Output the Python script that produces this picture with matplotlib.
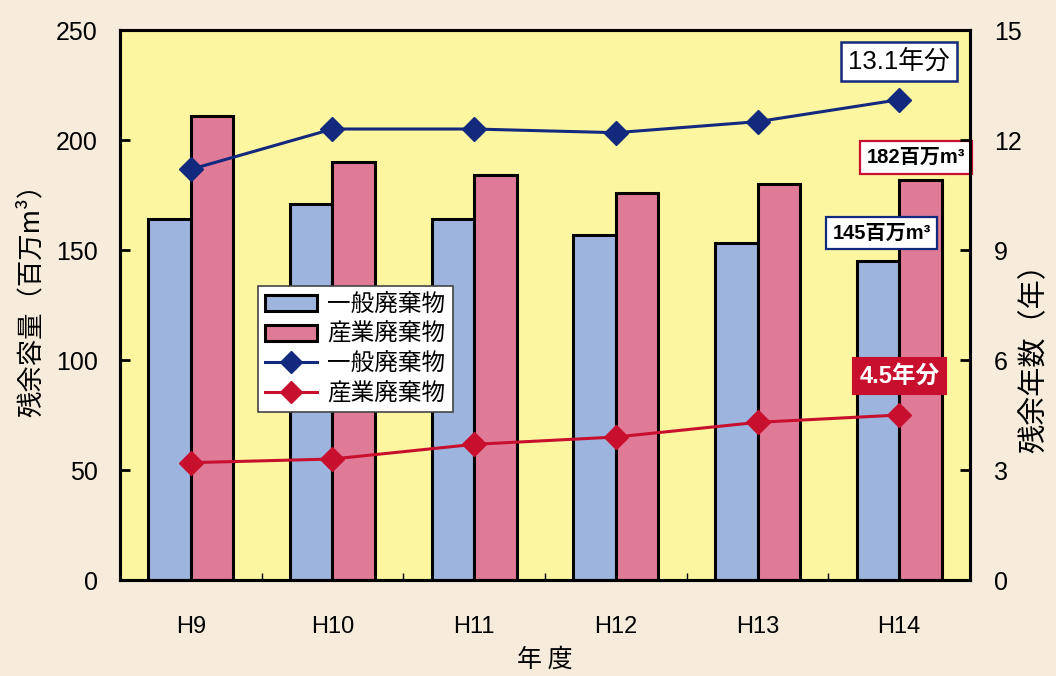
import matplotlib
matplotlib.use("Agg")
import matplotlib.pyplot as plt
import numpy as np

plt.rcParams['font.family'] = ['Liberation Sans', 'Noto Sans CJK JP', 'DejaVu Sans']
CJK = ['Noto Sans CJK JP', 'DejaVu Sans']

years = ["H9", "H10", "H11", "H12", "H13", "H14"]
general_volume = [164, 171, 164, 157, 153, 145]      # 百万m3
industrial_volume = [211, 190, 184, 176, 180, 182]   # 百万m3
general_years = [11.2, 12.3, 12.3, 12.2, 12.5, 13.1]  # 年
industrial_years = [3.2, 3.3, 3.7, 3.9, 4.3, 4.5]     # 年
series_names = ["一般廃棄物", "産業廃棄物"]

BLUE_BAR = "#9db4de"
PINK_BAR = "#e07b97"
NAVY = "#13297e"
RED = "#c8102e"

fig = plt.figure(figsize=(10.56, 6.76), dpi=100)
fig.patch.set_facecolor("#f7ecdc")
ax = fig.add_axes([0.1136, 0.142, 0.805, 0.8136])
ax.set_facecolor("#fdf6a0")

x = np.arange(len(years))
w = 0.3
b1 = ax.bar(x - w / 2, general_volume, w, color=BLUE_BAR, edgecolor="black",
            linewidth=2.2, label=series_names[0], zorder=2)
b2 = ax.bar(x + w / 2, industrial_volume, w, color=PINK_BAR, edgecolor="black",
            linewidth=2.2, label=series_names[1], zorder=2)

ax.set_xlim(-0.5, len(years) - 0.5)
ax.set_ylim(0, 250)
ax.set_yticks([0, 50, 100, 150, 200, 250])
ax.set_xticks(x)
ax.set_xticklabels(years)
ax.set_xticks(np.arange(len(years) + 1) - 0.5, minor=True)
ax.tick_params(axis="x", which="major", length=0, pad=26, labelsize=17)
ax.tick_params(axis="x", which="minor", direction="in", length=5, width=1)
ax.tick_params(axis="y", direction="in", length=7, width=2, labelsize=18, pad=16)
for s in ax.spines.values():
    s.set_linewidth(2.2)

ax2 = ax.twinx()
ax2.set_ylim(0, 15)
ax2.set_yticks([0, 3, 6, 9, 12, 15])
ax2.tick_params(axis="y", direction="in", length=7, width=2, labelsize=18, pad=17)
l1, = ax2.plot(x, general_years, color=NAVY, lw=2.2, marker="D", ms=12,
               label=series_names[0], zorder=3)
l2, = ax2.plot(x, industrial_years, color=RED, lw=2.2, marker="D", ms=12,
               label=series_names[1], zorder=3)
for s in ax2.spines.values():
    s.set_linewidth(2.2)

ax.set_ylabel("残余容量（百万m³）", fontsize=19, family=CJK)
ax.yaxis.set_label_coords(-0.088, 0.52)
ax2.set_ylabel("残余年数（年）", fontsize=21, family=CJK)
ax2.yaxis.set_label_coords(1.058, 0.416)
ax.set_xlabel("年 度", fontsize=18, family=CJK)
ax.xaxis.set_label_coords(0.5, -0.122)

leg = ax2.legend([b1, b2, l1, l2], series_names + series_names,
                 loc="lower left", bbox_to_anchor=(0.162, 0.305),
                 prop={'family': CJK, 'size': 17}, frameon=True, fancybox=False,
                 edgecolor="#444444", framealpha=1, handlelength=2.2,
                 handleheight=0.65, borderpad=0.3, labelspacing=0.28,
                 handletextpad=0.45, borderaxespad=0)
leg.get_frame().set_linewidth(1.2)
for h in leg.legend_handles[2:]:
    h.set_markersize(11)

# value call-outs for the latest year
last = len(years) - 1
ax2.annotate(f"{general_years[last]}年分", xy=(last, general_years[last]),
             xytext=(last, 14.15), ha="center", va="center",
             fontsize=18.5, color="black",
             bbox=dict(boxstyle="square,pad=0.28", fc="white", ec=NAVY, lw=1.8),
             zorder=5)
ax2.annotate(f"{industrial_years[last]}年分", xy=(last, industrial_years[last]),
             xytext=(last, 5.56), ha="center", va="center",
             fontsize=17, color="white", fontweight="bold",
             bbox=dict(boxstyle="square,pad=0.28", fc=RED, ec=RED, lw=1.5),
             zorder=5)
ax.text(last + 0.12, 192, f"{industrial_volume[last]}百万m³", ha="center",
        va="center", fontsize=14.5, fontweight="bold",
        bbox=dict(boxstyle="square,pad=0.33", fc="white", ec=RED, lw=1.6),
        zorder=5, clip_on=False)
ax.text(last - 0.124, 157.7, f"{general_volume[last]}百万m³", ha="center",
        va="center", fontsize=14.5, fontweight="bold",
        bbox=dict(boxstyle="square,pad=0.33", fc="white", ec=NAVY, lw=1.6),
        zorder=5)

fig.savefig("out.png", dpi=100, facecolor=fig.get_facecolor())
